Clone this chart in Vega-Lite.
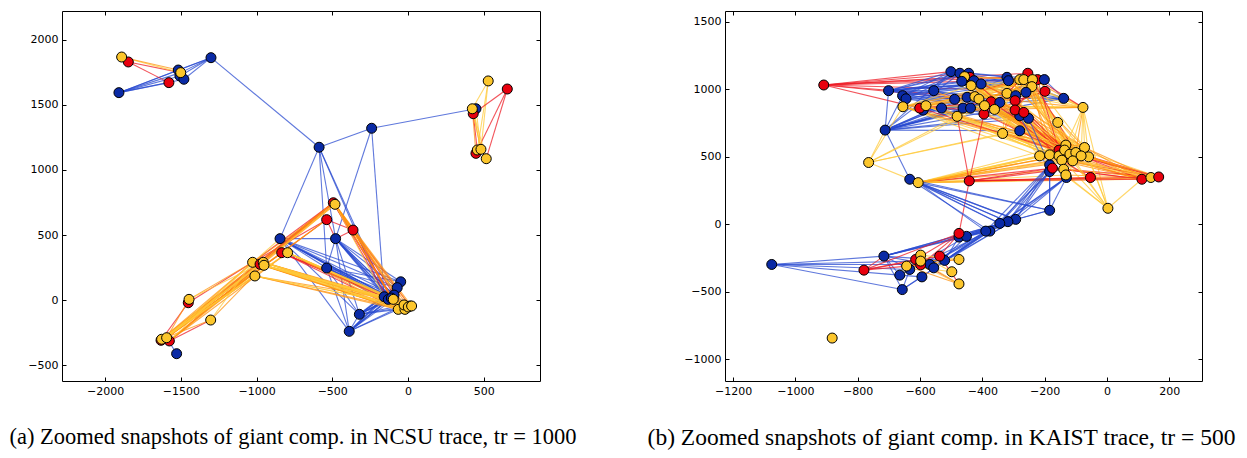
{
"$schema": "https://vega.github.io/schema/vega-lite/v6.json",
"padding": {"left": 9, "top": 10, "right": 0, "bottom": 5},
"spacing": 185,
"bounds": "flush",
"config": {
 "view": {"stroke": "black", "strokeWidth": 1},
 "axis": {"domain": false, "grid": false, "tickSize": -4, "tickColor": "black", "labelFont": "DejaVu Sans", "labelFontSize": 11, "labelColor": "black", "labelPadding": 8},
 "title": {"font": "Liberation Serif", "fontSize": 22.5, "fontWeight": "normal", "color": "black", "anchor": "middle"}
},
"datasets": {
 "nodesA": [
  {"id":"a8","x":-1909,"y":1595,"c":"B"},{"id":"a9","x":-1301,"y":1864,"c":"B"},{"id":"a3","x":-1517,"y":1769,"c":"B"},{"id":"a4","x":-1506,"y":1723,"c":"B"},{"id":"a5","x":-1480,"y":1698,"c":"B"},
  {"id":"a2","x":-1847,"y":1831,"c":"R"},{"id":"a1","x":-1891,"y":1869,"c":"Y"},{"id":"a7","x":-1579,"y":1672,"c":"R"},{"id":"a6","x":-1501,"y":1749,"c":"Y"},
  {"id":"a10","x":-587,"y":1175,"c":"B"},{"id":"a11","x":-240,"y":1321,"c":"B"},
  {"id":"a14","x":449,"y":1471,"c":"B"},{"id":"a15","x":431,"y":1433,"c":"R"},{"id":"a16","x":425,"y":1471,"c":"Y"},{"id":"a12","x":530,"y":1685,"c":"Y"},{"id":"a13","x":656,"y":1623,"c":"R"},
  {"id":"a17","x":449,"y":1128,"c":"R"},{"id":"a18","x":458,"y":1154,"c":"Y"},{"id":"a19","x":482,"y":1159,"c":"Y"},{"id":"a20","x":517,"y":1087,"c":"Y"},
  {"id":"a21","x":-493,"y":748,"c":"R"},{"id":"a22","x":-482,"y":736,"c":"Y"},{"id":"a23","x":-537,"y":618,"c":"R"},{"id":"a24","x":-363,"y":538,"c":"R"},
  {"id":"a25","x":-845,"y":472,"c":"B"},{"id":"a26","x":-478,"y":472,"c":"B"},{"id":"a27","x":-834,"y":364,"c":"R"},{"id":"a29","x":-795,"y":364,"c":"Y"},{"id":"a30","x":-537,"y":246,"c":"B"},
  {"id":"a31","x":-1026,"y":290,"c":"Y"},{"id":"a32","x":-977,"y":275,"c":"R"},{"id":"a33","x":-956,"y":290,"c":"Y"},{"id":"a34","x":-951,"y":267,"c":"Y"},{"id":"a35","x":-1011,"y":185,"c":"Y"},
  {"id":"a36","x":-1303,"y":-154,"c":"Y"},{"id":"a37","x":-1451,"y":-21,"c":"R"},{"id":"a38","x":-1446,"y":5,"c":"Y"},
  {"id":"a43","x":-1528,"y":-413,"c":"B"},{"id":"a39","x":-1631,"y":-310,"c":"R"},{"id":"a40","x":-1576,"y":-315,"c":"R"},{"id":"a41","x":-1627,"y":-302,"c":"Y"},{"id":"a42","x":-1594,"y":-290,"c":"Y"},
  {"id":"a57","x":-321,"y":-110,"c":"B"},{"id":"a58","x":-388,"y":-241,"c":"B"},
  {"id":"a44","x":-48,"y":140,"c":"B"},{"id":"a45","x":-71,"y":95,"c":"B"},{"id":"a46","x":-92,"y":38,"c":"B"},{"id":"a47","x":-157,"y":25,"c":"B"},{"id":"a48","x":-130,"y":5,"c":"B"},{"id":"a49","x":-110,"y":15,"c":"B"},
  {"id":"a51","x":-64,"y":-72,"c":"Y"},{"id":"a54","x":-20,"y":-72,"c":"Y"},{"id":"a52","x":-26,"y":-38,"c":"Y"},{"id":"a53","x":13,"y":-46,"c":"Y"},{"id":"a56","x":2,"y":-54,"c":"Y"},{"id":"a55","x":24,"y":-46,"c":"Y"},{"id":"a50","x":-97,"y":5,"c":"Y"}
 ],
 "edgesA": [
  {"s":"a8","t":"a3","c":"b"},{"s":"a8","t":"a4","c":"b"},{"s":"a8","t":"a5","c":"b"},{"s":"a8","t":"a9","c":"b"},{"s":"a8","t":"a7","c":"b"},{"s":"a8","t":"a6","c":"b"},
  {"s":"a9","t":"a3","c":"b"},{"s":"a9","t":"a4","c":"b"},{"s":"a9","t":"a5","c":"b"},{"s":"a9","t":"a6","c":"b"},{"s":"a9","t":"a10","c":"b"},{"s":"a10","t":"a11","c":"b"},{"s":"a11","t":"a14","c":"b"},
  {"s":"a2","t":"a7","c":"r"},{"s":"a2","t":"a6","c":"r"},{"s":"a1","t":"a6","c":"y"},{"s":"a1","t":"a3","c":"o"},
  {"s":"a12","t":"a16","c":"y"},{"s":"a12","t":"a18","c":"y"},{"s":"a12","t":"a19","c":"y"},{"s":"a13","t":"a15","c":"r"},{"s":"a13","t":"a17","c":"r"},{"s":"a13","t":"a20","c":"r"},
  {"s":"a16","t":"a17","c":"o"},{"s":"a15","t":"a18","c":"r"},{"s":"a16","t":"a20","c":"y"},{"s":"a15","t":"a19","c":"o"},{"s":"a16","t":"a19","c":"y"},{"s":"a14","t":"a19","c":"y"},
  {"s":"a10","t":"a25","c":"b"},{"s":"a10","t":"a26","c":"b"},{"s":"a10","t":"a30","c":"b"},{"s":"a10","t":"a48","c":"b"},{"s":"a11","t":"a26","c":"b"},{"s":"a11","t":"a47","c":"b"},{"s":"a10","t":"a47","c":"b"},
  {"s":"a25","t":"a47","c":"b"},{"s":"a25","t":"a48","c":"b"},{"s":"a25","t":"a46","c":"b"},{"s":"a25","t":"a45","c":"b"},{"s":"a25","t":"a44","c":"b"},{"s":"a25","t":"a49","c":"b"},{"s":"a25","t":"a57","c":"b"},{"s":"a25","t":"a58","c":"b"},{"s":"a25","t":"a30","c":"b"},{"s":"a25","t":"a26","c":"b"},{"s":"a25","t":"a50","c":"b"},{"s":"a25","t":"a52","c":"b"},
  {"s":"a26","t":"a47","c":"b"},{"s":"a26","t":"a48","c":"b"},{"s":"a26","t":"a46","c":"b"},{"s":"a26","t":"a45","c":"b"},{"s":"a26","t":"a44","c":"b"},{"s":"a26","t":"a49","c":"b"},{"s":"a26","t":"a57","c":"b"},{"s":"a26","t":"a58","c":"b"},{"s":"a26","t":"a30","c":"b"},{"s":"a26","t":"a50","c":"b"},{"s":"a26","t":"a52","c":"b"},{"s":"a26","t":"a51","c":"b"},
  {"s":"a30","t":"a47","c":"b"},{"s":"a30","t":"a48","c":"b"},{"s":"a30","t":"a46","c":"b"},{"s":"a30","t":"a44","c":"b"},{"s":"a30","t":"a58","c":"b"},{"s":"a30","t":"a57","c":"b"},{"s":"a30","t":"a49","c":"b"},{"s":"a30","t":"a51","c":"b"},{"s":"a30","t":"a52","c":"b"},{"s":"a30","t":"a45","c":"b"},
  {"s":"a57","t":"a47","c":"b"},{"s":"a57","t":"a48","c":"b"},{"s":"a57","t":"a46","c":"b"},{"s":"a57","t":"a45","c":"b"},{"s":"a57","t":"a44","c":"b"},{"s":"a57","t":"a49","c":"b"},{"s":"a57","t":"a58","c":"b"},{"s":"a57","t":"a50","c":"b"},{"s":"a57","t":"a52","c":"b"},{"s":"a57","t":"a51","c":"b"},{"s":"a57","t":"a55","c":"b"},
  {"s":"a58","t":"a47","c":"b"},{"s":"a58","t":"a48","c":"b"},{"s":"a58","t":"a46","c":"b"},{"s":"a58","t":"a45","c":"b"},{"s":"a58","t":"a44","c":"b"},{"s":"a58","t":"a49","c":"b"},{"s":"a58","t":"a51","c":"b"},{"s":"a58","t":"a52","c":"b"},{"s":"a58","t":"a50","c":"b"},
  {"s":"a47","t":"a44","c":"b"},{"s":"a48","t":"a44","c":"b"},{"s":"a47","t":"a45","c":"b"},{"s":"a49","t":"a55","c":"b"},{"s":"a46","t":"a53","c":"b"},{"s":"a43","t":"a42","c":"b"},
  {"s":"a21","t":"a31","c":"r"},{"s":"a21","t":"a33","c":"r"},{"s":"a21","t":"a42","c":"r"},{"s":"a23","t":"a31","c":"r"},{"s":"a23","t":"a42","c":"r"},{"s":"a23","t":"a24","c":"r"},{"s":"a24","t":"a26","c":"r"},{"s":"a24","t":"a46","c":"r"},{"s":"a24","t":"a51","c":"r"},
  {"s":"a27","t":"a48","c":"r"},{"s":"a27","t":"a50","c":"r"},{"s":"a27","t":"a51","c":"r"},{"s":"a21","t":"a50","c":"r"},{"s":"a21","t":"a48","c":"r"},{"s":"a32","t":"a21","c":"r"},{"s":"a39","t":"a21","c":"r"},{"s":"a40","t":"a36","c":"r"},{"s":"a39","t":"a37","c":"r"},{"s":"a37","t":"a31","c":"r"},{"s":"a40","t":"a33","c":"r"},{"s":"a24","t":"a53","c":"r"},{"s":"a23","t":"a26","c":"r"},{"s":"a27","t":"a52","c":"r"},{"s":"a21","t":"a51","c":"r"},
  {"s":"a22","t":"a51","c":"o"},{"s":"a22","t":"a50","c":"o"},{"s":"a22","t":"a54","c":"o"},{"s":"a22","t":"a52","c":"o"},{"s":"a31","t":"a51","c":"o"},{"s":"a33","t":"a50","c":"o"},{"s":"a35","t":"a51","c":"o"},{"s":"a29","t":"a51","c":"o"},{"s":"a34","t":"a52","c":"o"},
  {"s":"a42","t":"a33","c":"o"},{"s":"a42","t":"a31","c":"o"},{"s":"a42","t":"a22","c":"o"},{"s":"a42","t":"a29","c":"o"},{"s":"a41","t":"a36","c":"o"},{"s":"a42","t":"a38","c":"o"},{"s":"a38","t":"a31","c":"o"},{"s":"a36","t":"a34","c":"o"},{"s":"a40","t":"a34","c":"o"},{"s":"a41","t":"a35","c":"o"},{"s":"a42","t":"a27","c":"o"},{"s":"a41","t":"a22","c":"o"},{"s":"a31","t":"a22","c":"o"},{"s":"a34","t":"a23","c":"o"},{"s":"a33","t":"a54","c":"o"},{"s":"a31","t":"a53","c":"o"},{"s":"a29","t":"a53","c":"o"},{"s":"a40","t":"a21","c":"o"},
  {"s":"a31","t":"a52","c":"o"},{"s":"a31","t":"a54","c":"o"},{"s":"a33","t":"a52","c":"o"},{"s":"a33","t":"a55","c":"o"},{"s":"a34","t":"a51","c":"o"},{"s":"a34","t":"a53","c":"o"},{"s":"a35","t":"a50","c":"o"},{"s":"a35","t":"a54","c":"o"},{"s":"a32","t":"a51","c":"o"},{"s":"a22","t":"a53","c":"o"},{"s":"a22","t":"a56","c":"o"},{"s":"a22","t":"a55","c":"o"},{"s":"a29","t":"a52","c":"o"},{"s":"a29","t":"a54","c":"o"},{"s":"a21","t":"a52","c":"o"},{"s":"a42","t":"a23","c":"o"},{"s":"a41","t":"a21","c":"o"},{"s":"a40","t":"a22","c":"o"},{"s":"a39","t":"a33","c":"o"},{"s":"a42","t":"a34","c":"o"},{"s":"a41","t":"a31","c":"o"},{"s":"a40","t":"a29","c":"o"},
  {"s":"a31","t":"a50","c":"y"},{"s":"a33","t":"a51","c":"y"},{"s":"a34","t":"a54","c":"y"},{"s":"a33","t":"a53","c":"y"},{"s":"a31","t":"a47","c":"y"},{"s":"a29","t":"a50","c":"y"},{"s":"a38","t":"a33","c":"y"},{"s":"a39","t":"a35","c":"y"},{"s":"a40","t":"a31","c":"y"},{"s":"a33","t":"a22","c":"y"},{"s":"a42","t":"a25","c":"y"},{"s":"a35","t":"a52","c":"y"},{"s":"a34","t":"a50","c":"y"},{"s":"a29","t":"a55","c":"y"},{"s":"a41","t":"a29","c":"y"},{"s":"a36","t":"a31","c":"y"},
  {"s":"a31","t":"a56","c":"y"},{"s":"a33","t":"a56","c":"y"},{"s":"a34","t":"a55","c":"y"},{"s":"a35","t":"a53","c":"y"},{"s":"a29","t":"a56","c":"y"},{"s":"a22","t":"a47","c":"y"},{"s":"a42","t":"a32","c":"y"},{"s":"a41","t":"a33","c":"y"}
 ],
 "nodesB": [
  {"id":"b2","x":-701,"y":990,"c":"B"},{"id":"b3","x":-656,"y":953,"c":"B"},{"id":"b4","x":-645,"y":930,"c":"B"},{"id":"b5","x":-712,"y":698,"c":"B"},{"id":"b1","x":-909,"y":1032,"c":"R"},
  {"id":"b8","x":-590,"y":846,"c":"B"},{"id":"b7","x":-601,"y":861,"c":"R"},{"id":"b6","x":-655,"y":871,"c":"Y"},{"id":"b9","x":-581,"y":879,"c":"Y"},{"id":"b10","x":-556,"y":990,"c":"B"},{"id":"b11","x":-531,"y":861,"c":"B"},
  {"id":"b12","x":-501,"y":1131,"c":"B"},{"id":"b13","x":-472,"y":1119,"c":"B"},{"id":"b14","x":-444,"y":1119,"c":"B"},{"id":"b16","x":-440,"y":1089,"c":"R"},{"id":"b15","x":-457,"y":1094,"c":"Y"},{"id":"b17","x":-466,"y":1059,"c":"B"},{"id":"b18","x":-427,"y":1064,"c":"B"},{"id":"b19","x":-404,"y":1040,"c":"B"},
  {"id":"b20","x":-489,"y":926,"c":"B"},{"id":"b21","x":-449,"y":941,"c":"B"},{"id":"b22","x":-436,"y":1027,"c":"Y"},{"id":"b23","x":-462,"y":861,"c":"B"},{"id":"b24","x":-438,"y":861,"c":"B"},{"id":"b25","x":-481,"y":800,"c":"Y"},
  {"id":"b29","x":-395,"y":817,"c":"R"},{"id":"b30","x":-372,"y":908,"c":"R"},{"id":"b26","x":-424,"y":946,"c":"Y"},{"id":"b27","x":-411,"y":928,"c":"Y"},{"id":"b28","x":-393,"y":879,"c":"Y"},{"id":"b32","x":-344,"y":903,"c":"B"},{"id":"b31","x":-361,"y":851,"c":"Y"},{"id":"b33","x":-335,"y":673,"c":"Y"},
  {"id":"b34","x":-321,"y":1089,"c":"B"},{"id":"b35","x":-316,"y":1064,"c":"B"},{"id":"b36","x":-321,"y":970,"c":"Y"},{"id":"b41","x":-254,"y":1119,"c":"R"},{"id":"b42","x":-223,"y":1072,"c":"R"},{"id":"b43","x":-201,"y":1072,"c":"B"},
  {"id":"b37","x":-280,"y":1072,"c":"Y"},{"id":"b38","x":-267,"y":1072,"c":"Y"},{"id":"b39","x":-239,"y":1072,"c":"Y"},{"id":"b40","x":-241,"y":1020,"c":"Y"},
  {"id":"b49","x":-260,"y":978,"c":"B"},{"id":"b50","x":-293,"y":953,"c":"B"},{"id":"b47","x":-280,"y":804,"c":"B"},{"id":"b48","x":-252,"y":785,"c":"B"},{"id":"b44","x":-295,"y":916,"c":"R"},{"id":"b45","x":-295,"y":847,"c":"R"},{"id":"b46","x":-267,"y":829,"c":"R"},
  {"id":"b51","x":-280,"y":693,"c":"B"},{"id":"b52","x":-199,"y":985,"c":"R"},{"id":"b53","x":-139,"y":933,"c":"B"},{"id":"b54","x":-77,"y":866,"c":"Y"},{"id":"b55","x":-158,"y":755,"c":"Y"},
  {"id":"b72","x":-184,"y":441,"c":"B"},{"id":"b73","x":-184,"y":391,"c":"B"},{"id":"b74","x":-130,"y":347,"c":"B"},{"id":"b70","x":-154,"y":550,"c":"R"},{"id":"b71","x":-175,"y":416,"c":"R"},
  {"id":"b56","x":-216,"y":507,"c":"Y"},{"id":"b57","x":-184,"y":515,"c":"Y"},{"id":"b58","x":-154,"y":507,"c":"Y"},{"id":"b59","x":-132,"y":587,"c":"Y"},{"id":"b60","x":-136,"y":550,"c":"Y"},{"id":"b61","x":-119,"y":520,"c":"Y"},{"id":"b62","x":-100,"y":532,"c":"Y"},{"id":"b63","x":-72,"y":569,"c":"Y"},{"id":"b64","x":-59,"y":500,"c":"Y"},{"id":"b65","x":-83,"y":507,"c":"Y"},{"id":"b66","x":-145,"y":475,"c":"Y"},{"id":"b67","x":-110,"y":470,"c":"Y"},{"id":"b68","x":-139,"y":408,"c":"Y"},{"id":"b69","x":-132,"y":366,"c":"Y"},
  {"id":"b75","x":-53,"y":347,"c":"R"},{"id":"b76","x":112,"y":334,"c":"R"},{"id":"b77","x":141,"y":347,"c":"Y"},{"id":"b78","x":166,"y":351,"c":"R"},{"id":"b79","x":3,"y":119,"c":"Y"},{"id":"b80","x":-184,"y":104,"c":"B"},
  {"id":"b81","x":-765,"y":458,"c":"Y"},{"id":"b82","x":-633,"y":334,"c":"B"},{"id":"b83","x":-606,"y":309,"c":"Y"},{"id":"b84","x":-442,"y":322,"c":"R"},
  {"id":"b85","x":-293,"y":37,"c":"B"},{"id":"b86","x":-318,"y":20,"c":"B"},{"id":"b87","x":-344,"y":7,"c":"B"},{"id":"b88","x":-376,"y":-50,"c":"B"},{"id":"b89","x":-389,"y":-50,"c":"B"},
  {"id":"b91","x":-475,"y":-94,"c":"B"},{"id":"b92","x":-451,"y":-89,"c":"B"},{"id":"b90","x":-475,"y":-67,"c":"R"},
  {"id":"b93","x":-716,"y":-235,"c":"B"},{"id":"b95","x":-521,"y":-267,"c":"B"},{"id":"b94","x":-537,"y":-235,"c":"R"},{"id":"b96","x":-569,"y":-297,"c":"B"},{"id":"b97","x":-556,"y":-322,"c":"B"},{"id":"b102","x":-633,"y":-334,"c":"B"},{"id":"b98","x":-614,"y":-260,"c":"R"},{"id":"b99","x":-598,"y":-300,"c":"R"},
  {"id":"b100","x":-598,"y":-228,"c":"Y"},{"id":"b101","x":-598,"y":-272,"c":"Y"},{"id":"b103","x":-643,"y":-309,"c":"Y"},{"id":"b104","x":-665,"y":-376,"c":"B"},{"id":"b105","x":-594,"y":-389,"c":"B"},
  {"id":"b106","x":-498,"y":-351,"c":"Y"},{"id":"b107","x":-475,"y":-260,"c":"Y"},{"id":"b108","x":-475,"y":-441,"c":"Y"},{"id":"b109","x":-657,"y":-483,"c":"B"},{"id":"b110","x":-780,"y":-339,"c":"R"},{"id":"b111","x":-1076,"y":-297,"c":"B"},{"id":"b112","x":-882,"y":-842,"c":"Y"}
 ],
 "edgesB": [
  {"s":"b1","t":"b12","c":"r"},{"s":"b1","t":"b14","c":"r"},{"s":"b1","t":"b34","c":"r"},{"s":"b1","t":"b41","c":"r"},{"s":"b1","t":"b16","c":"r"},{"s":"b1","t":"b7","c":"r"},{"s":"b1","t":"b30","c":"r"},{"s":"b1","t":"b52","c":"r"},{"s":"b1","t":"b44","c":"r"},{"s":"b1","t":"b42","c":"r"},
  {"s":"b2","t":"b12","c":"b"},{"s":"b2","t":"b13","c":"b"},{"s":"b2","t":"b34","c":"b"},{"s":"b2","t":"b43","c":"b"},{"s":"b2","t":"b19","c":"b"},{"s":"b2","t":"b10","c":"b"},{"s":"b2","t":"b5","c":"b"},{"s":"b2","t":"b32","c":"b"},{"s":"b2","t":"b35","c":"b"},
  {"s":"b2","t":"b14","c":"b"},{"s":"b2","t":"b17","c":"b"},{"s":"b2","t":"b20","c":"b"},{"s":"b3","t":"b13","c":"b"},{"s":"b3","t":"b32","c":"b"},{"s":"b3","t":"b43","c":"b"},{"s":"b5","t":"b12","c":"b"},{"s":"b5","t":"b13","c":"b"},{"s":"b5","t":"b34","c":"b"},{"s":"b5","t":"b35","c":"b"},{"s":"b10","t":"b32","c":"b"},{"s":"b10","t":"b47","c":"b"},{"s":"b2","t":"b47","c":"b"},{"s":"b2","t":"b53","c":"b"},{"s":"b4","t":"b48","c":"b"},{"s":"b5","t":"b49","c":"b"},
  {"s":"b3","t":"b12","c":"b"},{"s":"b3","t":"b34","c":"b"},{"s":"b3","t":"b47","c":"b"},{"s":"b4","t":"b13","c":"b"},{"s":"b4","t":"b43","c":"b"},{"s":"b4","t":"b32","c":"b"},{"s":"b4","t":"b53","c":"b"},
  {"s":"b5","t":"b3","c":"b"},{"s":"b5","t":"b11","c":"b"},{"s":"b5","t":"b23","c":"b"},{"s":"b5","t":"b20","c":"b"},{"s":"b5","t":"b47","c":"b"},{"s":"b5","t":"b48","c":"b"},{"s":"b5","t":"b51","c":"b"},{"s":"b5","t":"b32","c":"b"},{"s":"b5","t":"b53","c":"b"},{"s":"b5","t":"b24","c":"b"},{"s":"b5","t":"b50","c":"b"},{"s":"b5","t":"b82","c":"b"},{"s":"b5","t":"b43","c":"b"},
  {"s":"b10","t":"b12","c":"b"},{"s":"b10","t":"b34","c":"b"},{"s":"b10","t":"b43","c":"b"},{"s":"b11","t":"b32","c":"b"},{"s":"b11","t":"b47","c":"b"},{"s":"b12","t":"b34","c":"b"},{"s":"b12","t":"b43","c":"b"},{"s":"b13","t":"b35","c":"b"},{"s":"b17","t":"b43","c":"b"},{"s":"b20","t":"b47","c":"b"},{"s":"b23","t":"b48","c":"b"},{"s":"b19","t":"b53","c":"b"},{"s":"b34","t":"b53","c":"b"},{"s":"b43","t":"b53","c":"b"},{"s":"b8","t":"b48","c":"b"},{"s":"b8","t":"b32","c":"b"},{"s":"b11","t":"b53","c":"b"},{"s":"b21","t":"b49","c":"b"},{"s":"b18","t":"b50","c":"b"},
  {"s":"b81","t":"b5","c":"y"},{"s":"b81","t":"b6","c":"y"},{"s":"b81","t":"b25","c":"y"},{"s":"b81","t":"b33","c":"y"},{"s":"b81","t":"b83","c":"y"},{"s":"b81","t":"b28","c":"y"},{"s":"b81","t":"b51","c":"y"},
  {"s":"b6","t":"b36","c":"y"},{"s":"b6","t":"b40","c":"o"},{"s":"b6","t":"b54","c":"y"},{"s":"b9","t":"b37","c":"o"},{"s":"b9","t":"b54","c":"y"},{"s":"b15","t":"b39","c":"o"},{"s":"b15","t":"b54","c":"y"},{"s":"b22","t":"b40","c":"y"},{"s":"b26","t":"b54","c":"o"},{"s":"b27","t":"b38","c":"y"},{"s":"b28","t":"b54","c":"y"},{"s":"b31","t":"b54","c":"o"},{"s":"b36","t":"b54","c":"y"},{"s":"b37","t":"b54","c":"y"},{"s":"b39","t":"b54","c":"o"},{"s":"b40","t":"b54","c":"y"},{"s":"b38","t":"b55","c":"y"},{"s":"b7","t":"b37","c":"r"},{"s":"b16","t":"b42","c":"r"},{"s":"b41","t":"b54","c":"r"},
  {"s":"b9","t":"b38","c":"y"},{"s":"b9","t":"b39","c":"y"},{"s":"b15","t":"b37","c":"y"},{"s":"b22","t":"b36","c":"y"},{"s":"b26","t":"b39","c":"y"},{"s":"b27","t":"b40","c":"y"},{"s":"b28","t":"b37","c":"y"},{"s":"b31","t":"b38","c":"y"},{"s":"b33","t":"b36","c":"y"},{"s":"b25","t":"b40","c":"y"},{"s":"b6","t":"b37","c":"y"},{"s":"b6","t":"b22","c":"y"},{"s":"b9","t":"b27","c":"y"},{"s":"b25","t":"b28","c":"y"},{"s":"b33","t":"b40","c":"y"},{"s":"b36","t":"b39","c":"y"},{"s":"b31","t":"b40","c":"y"},{"s":"b28","t":"b36","c":"y"},{"s":"b15","t":"b36","c":"y"},{"s":"b22","t":"b38","c":"y"},{"s":"b26","t":"b37","c":"y"},
  {"s":"b6","t":"b39","c":"o"},{"s":"b9","t":"b36","c":"o"},{"s":"b25","t":"b38","c":"o"},{"s":"b28","t":"b39","c":"o"},{"s":"b31","t":"b37","c":"o"},{"s":"b33","t":"b38","c":"o"},{"s":"b27","t":"b36","c":"o"},
  {"s":"b7","t":"b30","c":"r"},{"s":"b16","t":"b44","c":"r"},{"s":"b29","t":"b41","c":"r"},{"s":"b45","t":"b42","c":"r"},{"s":"b30","t":"b46","c":"r"},{"s":"b44","t":"b52","c":"r"},{"s":"b7","t":"b45","c":"r"},{"s":"b29","t":"b52","c":"r"},
  {"s":"b6","t":"b58","c":"y"},{"s":"b6","t":"b61","c":"o"},{"s":"b9","t":"b60","c":"y"},{"s":"b9","t":"b64","c":"o"},{"s":"b15","t":"b59","c":"y"},{"s":"b15","t":"b62","c":"o"},{"s":"b22","t":"b58","c":"y"},{"s":"b22","t":"b63","c":"o"},{"s":"b25","t":"b61","c":"y"},{"s":"b25","t":"b66","c":"y"},
  {"s":"b26","t":"b60","c":"o"},{"s":"b26","t":"b65","c":"y"},{"s":"b27","t":"b59","c":"y"},{"s":"b27","t":"b67","c":"o"},{"s":"b28","t":"b62","c":"y"},{"s":"b28","t":"b58","c":"o"},{"s":"b31","t":"b60","c":"y"},{"s":"b31","t":"b61","c":"o"},{"s":"b33","t":"b58","c":"y"},{"s":"b33","t":"b59","c":"y"},
  {"s":"b36","t":"b61","c":"y"},{"s":"b36","t":"b66","c":"o"},{"s":"b37","t":"b60","c":"y"},{"s":"b37","t":"b63","c":"o"},{"s":"b38","t":"b62","c":"y"},{"s":"b38","t":"b64","c":"y"},{"s":"b39","t":"b59","c":"o"},{"s":"b39","t":"b61","c":"y"},{"s":"b40","t":"b65","c":"y"},{"s":"b40","t":"b60","c":"o"},
  {"s":"b6","t":"b56","c":"y"},{"s":"b6","t":"b63","c":"y"},{"s":"b9","t":"b57","c":"y"},{"s":"b15","t":"b64","c":"y"},{"s":"b22","t":"b61","c":"y"},{"s":"b25","t":"b58","c":"y"},{"s":"b26","t":"b59","c":"y"},{"s":"b27","t":"b62","c":"y"},{"s":"b28","t":"b63","c":"y"},{"s":"b31","t":"b56","c":"y"},{"s":"b33","t":"b61","c":"y"},{"s":"b36","t":"b58","c":"y"},{"s":"b37","t":"b59","c":"y"},{"s":"b38","t":"b60","c":"y"},{"s":"b39","t":"b63","c":"y"},{"s":"b40","t":"b62","c":"y"},{"s":"b9","t":"b66","c":"y"},{"s":"b28","t":"b67","c":"y"},{"s":"b36","t":"b64","c":"y"},{"s":"b37","t":"b65","c":"y"},{"s":"b26","t":"b57","c":"y"},{"s":"b27","t":"b66","c":"y"},
  {"s":"b6","t":"b60","c":"o"},{"s":"b15","t":"b58","c":"o"},{"s":"b22","t":"b65","c":"o"},{"s":"b25","t":"b63","c":"o"},{"s":"b26","t":"b62","c":"o"},{"s":"b28","t":"b61","c":"o"},{"s":"b31","t":"b64","c":"o"},{"s":"b33","t":"b63","c":"o"},{"s":"b36","t":"b59","c":"o"},{"s":"b38","t":"b58","c":"o"},{"s":"b39","t":"b66","c":"o"},{"s":"b40","t":"b57","c":"o"},{"s":"b9","t":"b59","c":"o"},
  {"s":"b29","t":"b70","c":"r"},{"s":"b30","t":"b61","c":"r"},{"s":"b44","t":"b60","c":"r"},{"s":"b45","t":"b70","c":"r"},{"s":"b46","t":"b67","c":"r"},{"s":"b41","t":"b62","c":"r"},{"s":"b42","t":"b70","c":"r"},{"s":"b16","t":"b58","c":"r"},{"s":"b7","t":"b61","c":"r"},
  {"s":"b55","t":"b60","c":"y"},{"s":"b55","t":"b61","c":"o"},{"s":"b12","t":"b59","c":"y"},{"s":"b14","t":"b63","c":"o"},{"s":"b20","t":"b62","c":"y"},{"s":"b11","t":"b58","c":"y"},{"s":"b35","t":"b64","c":"y"},{"s":"b34","t":"b65","c":"o"},{"s":"b13","t":"b67","c":"y"},{"s":"b10","t":"b60","c":"o"},
  {"s":"b54","t":"b63","c":"y"},{"s":"b54","t":"b64","c":"y"},{"s":"b54","t":"b59","c":"y"},{"s":"b54","t":"b62","c":"o"},{"s":"b54","t":"b79","c":"y"},{"s":"b54","t":"b65","c":"y"},{"s":"b54","t":"b61","c":"y"},{"s":"b48","t":"b72","c":"b"},{"s":"b47","t":"b73","c":"b"},
  {"s":"b56","t":"b76","c":"o"},{"s":"b57","t":"b76","c":"r"},{"s":"b58","t":"b77","c":"o"},{"s":"b59","t":"b78","c":"y"},{"s":"b61","t":"b76","c":"o"},{"s":"b62","t":"b78","c":"r"},{"s":"b63","t":"b77","c":"o"},{"s":"b64","t":"b76","c":"y"},{"s":"b66","t":"b78","c":"r"},{"s":"b67","t":"b76","c":"o"},{"s":"b68","t":"b76","c":"r"},{"s":"b69","t":"b77","c":"o"},{"s":"b71","t":"b78","c":"r"},{"s":"b71","t":"b76","c":"r"},{"s":"b75","t":"b76","c":"o"},{"s":"b60","t":"b77","c":"y"},{"s":"b65","t":"b78","c":"y"},{"s":"b57","t":"b75","c":"o"},{"s":"b66","t":"b75","c":"r"},
  {"s":"b58","t":"b76","c":"o"},{"s":"b59","t":"b76","c":"o"},{"s":"b60","t":"b78","c":"o"},{"s":"b62","t":"b77","c":"o"},{"s":"b63","t":"b76","c":"o"},{"s":"b65","t":"b76","c":"r"},{"s":"b67","t":"b78","c":"y"},{"s":"b68","t":"b77","c":"o"},{"s":"b56","t":"b77","c":"y"},{"s":"b61","t":"b78","c":"r"},{"s":"b64","t":"b77","c":"o"},
  {"s":"b79","t":"b56","c":"y"},{"s":"b79","t":"b58","c":"y"},{"s":"b79","t":"b61","c":"y"},{"s":"b79","t":"b63","c":"y"},{"s":"b79","t":"b64","c":"y"},{"s":"b79","t":"b67","c":"y"},{"s":"b79","t":"b76","c":"y"},{"s":"b79","t":"b69","c":"y"},
  {"s":"b83","t":"b56","c":"y"},{"s":"b83","t":"b58","c":"y"},{"s":"b83","t":"b61","c":"o"},{"s":"b83","t":"b66","c":"y"},{"s":"b83","t":"b68","c":"o"},{"s":"b83","t":"b71","c":"r"},{"s":"b83","t":"b76","c":"y"},{"s":"b83","t":"b75","c":"o"},{"s":"b83","t":"b64","c":"y"},{"s":"b83","t":"b69","c":"y"},{"s":"b83","t":"b67","c":"o"},{"s":"b83","t":"b57","c":"y"},{"s":"b82","t":"b83","c":"b"},
  {"s":"b83","t":"b59","c":"y"},{"s":"b83","t":"b60","c":"y"},{"s":"b83","t":"b62","c":"o"},{"s":"b83","t":"b63","c":"y"},{"s":"b83","t":"b65","c":"o"},{"s":"b83","t":"b77","c":"o"},{"s":"b83","t":"b78","c":"y"},
  {"s":"b84","t":"b71","c":"r"},{"s":"b84","t":"b78","c":"r"},{"s":"b84","t":"b75","c":"r"},{"s":"b84","t":"b76","c":"r"},{"s":"b84","t":"b68","c":"r"},{"s":"b84","t":"b25","c":"r"},{"s":"b84","t":"b29","c":"r"},{"s":"b84","t":"b90","c":"r"},
  {"s":"b82","t":"b85","c":"b"},{"s":"b82","t":"b86","c":"b"},{"s":"b82","t":"b87","c":"b"},{"s":"b83","t":"b85","c":"b"},{"s":"b83","t":"b86","c":"b"},{"s":"b83","t":"b87","c":"b"},{"s":"b83","t":"b80","c":"b"},{"s":"b82","t":"b88","c":"b"},{"s":"b83","t":"b89","c":"b"},{"s":"b82","t":"b80","c":"b"},
  {"s":"b85","t":"b72","c":"b"},{"s":"b85","t":"b73","c":"b"},{"s":"b86","t":"b72","c":"b"},{"s":"b86","t":"b74","c":"b"},{"s":"b87","t":"b73","c":"b"},{"s":"b85","t":"b74","c":"b"},{"s":"b80","t":"b73","c":"b"},{"s":"b80","t":"b74","c":"b"},{"s":"b80","t":"b72","c":"b"},{"s":"b86","t":"b80","c":"b"},{"s":"b85","t":"b80","c":"b"},{"s":"b88","t":"b73","c":"b"},{"s":"b89","t":"b72","c":"b"},{"s":"b87","t":"b74","c":"b"},{"s":"b86","t":"b73","c":"b"},{"s":"b87","t":"b72","c":"b"},{"s":"b88","t":"b74","c":"b"},
  {"s":"b85","t":"b86","c":"b"},{"s":"b86","t":"b87","c":"b"},{"s":"b87","t":"b88","c":"b"},{"s":"b88","t":"b89","c":"b"},{"s":"b85","t":"b88","c":"b"},{"s":"b86","t":"b89","c":"b"},{"s":"b87","t":"b91","c":"b"},{"s":"b85","t":"b91","c":"b"},{"s":"b86","t":"b92","c":"b"},{"s":"b88","t":"b91","c":"b"},{"s":"b89","t":"b92","c":"b"},{"s":"b85","t":"b92","c":"b"},{"s":"b87","t":"b92","c":"b"},{"s":"b86","t":"b91","c":"b"},
  {"s":"b88","t":"b93","c":"b"},{"s":"b89","t":"b96","c":"b"},{"s":"b88","t":"b97","c":"b"},{"s":"b87","t":"b95","c":"b"},{"s":"b91","t":"b95","c":"b"},{"s":"b92","t":"b97","c":"b"},{"s":"b88","t":"b102","c":"b"},{"s":"b85","t":"b93","c":"b"},{"s":"b86","t":"b96","c":"b"},{"s":"b89","t":"b105","c":"b"},{"s":"b91","t":"b93","c":"b"},{"s":"b92","t":"b104","c":"b"},{"s":"b88","t":"b109","c":"b"},{"s":"b87","t":"b97","c":"b"},{"s":"b86","t":"b93","c":"b"},{"s":"b87","t":"b96","c":"b"},{"s":"b85","t":"b95","c":"b"},{"s":"b89","t":"b93","c":"b"},{"s":"b85","t":"b97","c":"b"},
  {"s":"b111","t":"b93","c":"b"},{"s":"b111","t":"b104","c":"b"},{"s":"b111","t":"b109","c":"b"},{"s":"b111","t":"b96","c":"b"},{"s":"b111","t":"b95","c":"b"},{"s":"b111","t":"b102","c":"b"},{"s":"b93","t":"b109","c":"b"},{"s":"b93","t":"b104","c":"b"},{"s":"b93","t":"b102","c":"b"},{"s":"b93","t":"b96","c":"b"},{"s":"b109","t":"b102","c":"b"},{"s":"b109","t":"b105","c":"b"},{"s":"b104","t":"b105","c":"b"},{"s":"b93","t":"b95","c":"b"},
  {"s":"b110","t":"b98","c":"r"},{"s":"b110","t":"b94","c":"r"},{"s":"b110","t":"b99","c":"r"},{"s":"b110","t":"b93","c":"r"},{"s":"b90","t":"b98","c":"r"},{"s":"b90","t":"b94","c":"r"},{"s":"b90","t":"b99","c":"r"},{"s":"b90","t":"b110","c":"r"},{"s":"b94","t":"b108","c":"r"},{"s":"b98","t":"b108","c":"r"},
  {"s":"b107","t":"b100","c":"y"},{"s":"b107","t":"b101","c":"o"},{"s":"b108","t":"b99","c":"y"},{"s":"b108","t":"b103","c":"o"},{"s":"b106","t":"b103","c":"y"},{"s":"b106","t":"b100","c":"y"},{"s":"b107","t":"b103","c":"o"},{"s":"b108","t":"b101","c":"y"}
 ]
},
"hconcat": [
 {
  "width": 478, "height": 370,
  "title": {"text": "(a) Zoomed snapshots of giant comp. in NCSU trace, tr = 1000", "orient": "bottom", "offset": 30, "dx": -8},
  "layer": [
   {"data": {"name": "edgesA"},
    "transform": [
     {"lookup": "s", "from": {"data": {"name": "nodesA"}, "key": "id", "fields": ["x", "y"]}, "as": ["sx", "sy"]},
     {"lookup": "t", "from": {"data": {"name": "nodesA"}, "key": "id", "fields": ["x", "y"]}, "as": ["tx", "ty"]}
    ],
    "mark": {"type": "rule", "strokeWidth": 1.1, "opacity": 0.75},
    "encoding": {
     "x": {"field": "sx", "type": "quantitative", "scale": {"domain": [-2285, 872], "nice": false, "zero": false}, "axis": {"orient": "top", "labels": false, "values": [-2000, -1500, -1000, -500, 0, 500], "title": null}},
     "y": {"field": "sy", "type": "quantitative", "scale": {"domain": [-623, 2223], "nice": false, "zero": false}, "axis": {"orient": "right", "labels": false, "values": [-500, 0, 500, 1000, 1500, 2000], "title": null}},
     "x2": {"field": "tx"}, "y2": {"field": "ty"},
     "color": {"field": "c", "type": "nominal", "scale": {"domain": ["b", "r", "o", "y"], "range": ["#2a4bd0", "#ee1c25", "#ff9410", "#ffc93a"]}, "legend": null}
    }},
   {"data": {"name": "nodesA"},
    "mark": {"type": "circle", "size": 100, "stroke": "black", "strokeWidth": 1, "opacity": 1},
    "encoding": {
     "x": {"field": "x", "type": "quantitative", "axis": {"orient": "bottom", "values": [-2000, -1500, -1000, -500, 0, 500], "format": "d", "title": null}},
     "y": {"field": "y", "type": "quantitative", "axis": {"orient": "left", "values": [-500, 0, 500, 1000, 1500, 2000], "format": "d", "title": null}},
     "fill": {"field": "c", "type": "nominal", "scale": {"domain": ["B", "R", "Y"], "range": ["#0a2aa5", "#e8000e", "#fcc62c"]}, "legend": null}
    }}
  ]
 },
 {
  "width": 477, "height": 370,
  "title": {"text": "(b) Zoomed snapshots of giant comp. in KAIST trace, tr = 500", "orient": "bottom", "offset": 30, "fontSize": 23.5, "dx": -22},
  "layer": [
   {"data": {"name": "edgesB"},
    "transform": [
     {"lookup": "s", "from": {"data": {"name": "nodesB"}, "key": "id", "fields": ["x", "y"]}, "as": ["sx", "sy"]},
     {"lookup": "t", "from": {"data": {"name": "nodesB"}, "key": "id", "fields": ["x", "y"]}, "as": ["tx", "ty"]}
    ],
    "mark": {"type": "rule", "strokeWidth": 1.1, "opacity": 0.75},
    "encoding": {
     "x": {"field": "sx", "type": "quantitative", "scale": {"domain": [-1226, 305], "nice": false, "zero": false}, "axis": {"orient": "top", "labels": false, "values": [-1200, -1000, -800, -600, -400, -200, 0, 200], "title": null}},
     "y": {"field": "sy", "type": "quantitative", "scale": {"domain": [-1160, 1580], "nice": false, "zero": false}, "axis": {"orient": "right", "labels": false, "values": [-1000, -500, 0, 500, 1000, 1500], "title": null}},
     "x2": {"field": "tx"}, "y2": {"field": "ty"},
     "color": {"field": "c", "type": "nominal", "scale": {"domain": ["b", "r", "o", "y"], "range": ["#2a4bd0", "#ee1c25", "#ff9410", "#ffc93a"]}, "legend": null}
    }},
   {"data": {"name": "nodesB"},
    "mark": {"type": "circle", "size": 100, "stroke": "black", "strokeWidth": 1, "opacity": 1},
    "encoding": {
     "x": {"field": "x", "type": "quantitative", "axis": {"orient": "bottom", "values": [-1200, -1000, -800, -600, -400, -200, 0, 200], "format": "d", "title": null}},
     "y": {"field": "y", "type": "quantitative", "axis": {"orient": "left", "values": [-1000, -500, 0, 500, 1000, 1500], "format": "d", "title": null}},
     "fill": {"field": "c", "type": "nominal", "scale": {"domain": ["B", "R", "Y"], "range": ["#0a2aa5", "#e8000e", "#fcc62c"]}, "legend": null}
    }}
  ]
 }
]
}
